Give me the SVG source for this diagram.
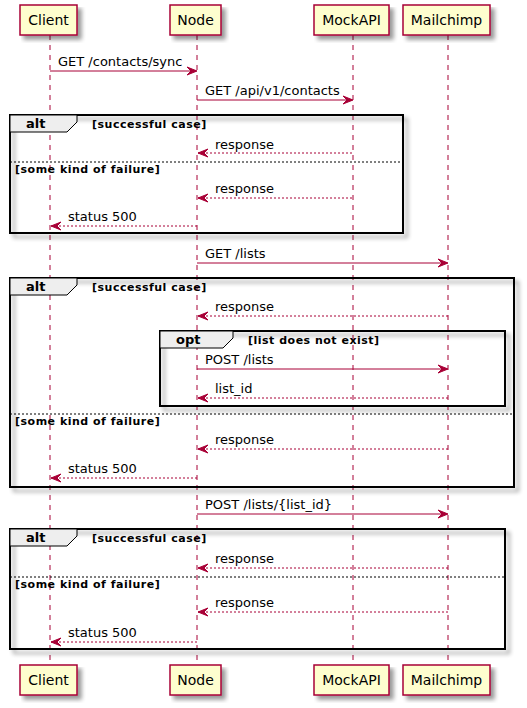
<svg xmlns="http://www.w3.org/2000/svg" width="527" height="708" viewBox="0 0 527 708">
<style>
.life{stroke:#A80036;stroke-width:1;stroke-dasharray:5,5;fill:none}
.pbox{fill:#FEFECE;stroke:#A80036;stroke-width:1.5}
.ptxt{font-family:"DejaVu Sans",sans-serif;font-size:14px;fill:#000;text-anchor:middle}
.msg{stroke:#A80036;stroke-width:1;fill:none}
.dot{stroke-dasharray:2,2}
.head{fill:#A80036;stroke:#A80036;stroke-width:1}
.mtxt{font-family:"DejaVu Sans",sans-serif;font-size:13px;fill:#000}
.frame{fill:none;stroke:#000;stroke-width:2}
.tab{fill:#EEEEEE;stroke:#000;stroke-width:1}
.ftxt{font-family:"DejaVu Sans",sans-serif;font-size:13px;font-weight:bold;fill:#000}
.gtxt{font-family:"DejaVu Sans",sans-serif;font-size:11px;font-weight:bold;fill:#000;letter-spacing:0.5px}
.div{stroke:#000;stroke-width:1;stroke-dasharray:2,2}
</style>
<defs>
<filter id="sh" x="-5%" y="-5%" width="120%" height="130%">
<feGaussianBlur in="SourceAlpha" stdDeviation="2" result="b"/>
<feOffset in="b" dx="4" dy="4" result="o"/>
<feComponentTransfer in="o" result="s"><feFuncA type="linear" slope="0.4"/></feComponentTransfer>
<feMerge><feMergeNode in="s"/><feMergeNode in="SourceGraphic"/></feMerge>
</filter>
</defs>
<rect width="527" height="708" fill="#FFFFFF"/>
<g id="lifelines">
<line class="life" x1="50" y1="35" x2="50" y2="665"/>
<line class="life" x1="197" y1="35" x2="197" y2="665"/>
<line class="life" x1="353" y1="35" x2="353" y2="665"/>
<line class="life" x1="448" y1="35" x2="448" y2="665"/>
</g>
<g id="Client">
<rect class="pbox" filter="url(#sh)" x="20" y="5" width="57" height="30"/>
<text class="ptxt" x="48.5" y="25">Client</text>
<rect class="pbox" filter="url(#sh)" x="20" y="665" width="57" height="30"/>
<text class="ptxt" x="48.5" y="685">Client</text>
</g>
<g id="Node">
<rect class="pbox" filter="url(#sh)" x="170" y="5" width="51" height="30"/>
<text class="ptxt" x="195.5" y="25">Node</text>
<rect class="pbox" filter="url(#sh)" x="170" y="665" width="51" height="30"/>
<text class="ptxt" x="195.5" y="685">Node</text>
</g>
<g id="MockAPI">
<rect class="pbox" filter="url(#sh)" x="314" y="5" width="75" height="30"/>
<text class="ptxt" x="351.5" y="25">MockAPI</text>
<rect class="pbox" filter="url(#sh)" x="314" y="665" width="75" height="30"/>
<text class="ptxt" x="351.5" y="685">MockAPI</text>
</g>
<g id="Mailchimp">
<rect class="pbox" filter="url(#sh)" x="403" y="5" width="87" height="30"/>
<text class="ptxt" x="446.5" y="25">Mailchimp</text>
<rect class="pbox" filter="url(#sh)" x="403" y="665" width="87" height="30"/>
<text class="ptxt" x="446.5" y="685">Mailchimp</text>
</g>
<g id="alt1">
<rect class="frame" filter="url(#sh)" x="10" y="115" width="393" height="118"/>
<polygon class="tab" points="10,115 77,115 77,122 67,132 10,132"/>
<text class="ftxt" x="26" y="128">alt</text>
<text class="gtxt" x="92" y="128">[successful case]</text>
<line class="div" x1="10" y1="162" x2="403" y2="162"/>
<text class="gtxt" x="15" y="173">[some kind of failure]</text>
</g>
<g id="alt2">
<rect class="frame" filter="url(#sh)" x="10" y="278" width="504" height="209"/>
<polygon class="tab" points="10,278 77,278 77,285 67,295 10,295"/>
<text class="ftxt" x="26" y="291">alt</text>
<text class="gtxt" x="92" y="291">[successful case]</text>
<line class="div" x1="10" y1="414" x2="514" y2="414"/>
<text class="gtxt" x="15" y="425">[some kind of failure]</text>
</g>
<g id="opt">
<rect class="frame" filter="url(#sh)" x="160" y="331" width="345" height="75"/>
<polygon class="tab" points="160,331 233,331 233,338 223,348 160,348"/>
<text class="ftxt" x="176" y="344">opt</text>
<text class="gtxt" x="248" y="344">[list does not exist]</text>
</g>
<g id="alt3">
<rect class="frame" filter="url(#sh)" x="10" y="529" width="495" height="120"/>
<polygon class="tab" points="10,529 77,529 77,536 67,546 10,546"/>
<text class="ftxt" x="26" y="542">alt</text>
<text class="gtxt" x="92" y="542">[successful case]</text>
<line class="div" x1="10" y1="577" x2="505" y2="577"/>
<text class="gtxt" x="15" y="588">[some kind of failure]</text>
</g>
<g id="connectors">
<line class="msg" x1="50" y1="71" x2="196" y2="71"/>
<polygon class="head" points="187,67 197,71 187,75 191,71"/>
<text class="mtxt" x="58" y="66">GET /contacts/sync</text>

<line class="msg" x1="197" y1="100" x2="352" y2="100"/>
<polygon class="head" points="343,96 353,100 343,104 347,100"/>
<text class="mtxt" x="205" y="95">GET /api/v1/contacts</text>

<line class="msg dot" x1="198" y1="153" x2="353" y2="153"/>
<polygon class="head" points="208,149 198,153 208,157 204,153"/>
<text class="mtxt" x="215" y="149">response</text>

<line class="msg dot" x1="198" y1="198" x2="353" y2="198"/>
<polygon class="head" points="208,194 198,198 208,202 204,198"/>
<text class="mtxt" x="215" y="193">response</text>

<line class="msg dot" x1="51" y1="226" x2="197" y2="226"/>
<polygon class="head" points="61,222 51,226 61,230 57,226"/>
<text class="mtxt" x="68" y="221">status 500</text>

<line class="msg" x1="197" y1="263" x2="447" y2="263"/>
<polygon class="head" points="438,259 448,263 438,267 442,263"/>
<text class="mtxt" x="205" y="258">GET /lists</text>

<line class="msg dot" x1="198" y1="316" x2="448" y2="316"/>
<polygon class="head" points="208,312 198,316 208,320 204,316"/>
<text class="mtxt" x="215" y="311">response</text>

<line class="msg" x1="197" y1="369" x2="447" y2="369"/>
<polygon class="head" points="438,365 448,369 438,373 442,369"/>
<text class="mtxt" x="205" y="364">POST /lists</text>

<line class="msg dot" x1="198" y1="398" x2="448" y2="398"/>
<polygon class="head" points="208,394 198,398 208,402 204,398"/>
<text class="mtxt" x="215" y="393">list_id</text>

<line class="msg dot" x1="198" y1="449" x2="448" y2="449"/>
<polygon class="head" points="208,445 198,449 208,453 204,449"/>
<text class="mtxt" x="215" y="444">response</text>

<line class="msg dot" x1="51" y1="478" x2="197" y2="478"/>
<polygon class="head" points="61,474 51,478 61,482 57,478"/>
<text class="mtxt" x="68" y="473">status 500</text>

<line class="msg" x1="197" y1="514" x2="447" y2="514"/>
<polygon class="head" points="438,510 448,514 438,518 442,514"/>
<text class="mtxt" x="205" y="509">POST /lists/{list_id}</text>

<line class="msg dot" x1="198" y1="568" x2="448" y2="568"/>
<polygon class="head" points="208,564 198,568 208,572 204,568"/>
<text class="mtxt" x="215" y="563">response</text>

<line class="msg dot" x1="198" y1="612" x2="448" y2="612"/>
<polygon class="head" points="208,608 198,612 208,616 204,612"/>
<text class="mtxt" x="215" y="607">response</text>

<line class="msg dot" x1="51" y1="642" x2="197" y2="642"/>
<polygon class="head" points="61,638 51,642 61,646 57,642"/>
<text class="mtxt" x="68" y="637">status 500</text>
</g>
</svg>
